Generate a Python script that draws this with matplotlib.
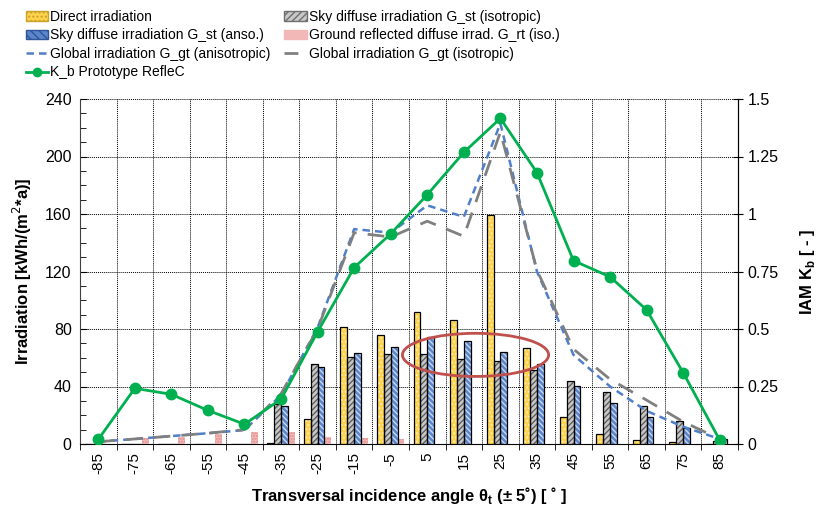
import numpy as np
import matplotlib
matplotlib.use("Agg")
import matplotlib.pyplot as plt
from matplotlib.patches import Patch, Ellipse
from matplotlib.lines import Line2D

plt.rcParams['font.family'] = ['Liberation Sans', 'DejaVu Sans']
plt.rcParams['hatch.linewidth'] = 1.0

# Datos
angulos = ['-85', '-75', '-65', '-55', '-45', '-35', '-25', '-15', '-5',
           '5', '15', '25', '35', '45', '55', '65', '75', '85']
directa = [0, 0, 0, 0, 0, 0.5, 17.5, 81.5, 76, 92, 86, 159, 66.5, 19, 6.7, 2.8, 1.6, 0.3]
difusa_iso = [0, 0, 0, 0, 0, 27.5, 56, 60.5, 62.5, 62.5, 59, 57.5, 51.5, 44, 36.5, 26.5, 16.2, 2.0]
difusa_aniso = [0, 0, 0, 0, 0, 26.7, 53.8, 63, 67.2, 74.4, 71.6, 64.2, 55.4, 40.3, 28.3, 18.5, 10.9, 3.2]
reflejada = [0, 4, 5.1, 6.7, 8.5, 8.4, 5.1, 4, 3.2, 0, 0, 0, 0, 0, 0, 0, 0, 0]
global_aniso = [1.6, 3.5, 5.5, 7.5, 9.7, 34, 81, 149.5, 147, 166, 158, 223, 120, 62, 40, 23, 12, 3.5]
global_iso = [1.6, 3.5, 5.5, 7.5, 10, 35, 80, 147, 144, 155, 144.5, 217, 121, 66, 45, 30.5, 15.5, 3.5]
kb = [0.02, 0.242, 0.216, 0.146, 0.086, 0.195, 0.488, 0.767, 0.914, 1.084,
      1.268, 1.416, 1.18, 0.797, 0.727, 0.583, 0.31, 0.017]

x = np.arange(len(angulos))
w = 0.188

fig = plt.figure(figsize=(8.21, 5.08), dpi=100)
ax = fig.add_axes([80/821, 64/508, 658/821, 345/508])
ax2 = ax.twinx()

# Barras: capa con trama + capa con borde negro
series = [
    (directa, -1.5, '#FFD34D', '#FFF0B0', '....', 'black'),
    (difusa_iso, -0.5, '#C8C8C8', '#5E5E5E', '//////', 'black'),
    (difusa_aniso, 0.5, '#5B86CC', '#C9D8F0', '\\\\\\\\\\\\', 'black'),
    (reflejada, 1.5, '#F2B8B8', '#E08C8C', '......', None),
]
for valores, off, cara, trama, patron, borde in series:
    ax.bar(x + off*w, valores, w, color=cara, edgecolor=trama, hatch=patron,
           linewidth=0, zorder=3)
    if borde:
        ax.bar(x + off*w, valores, w, fill=False, edgecolor=borde,
               linewidth=0.9, zorder=4)

ax.plot(x, global_aniso, color='#4F7FC8', lw=1.8, dashes=(3, 2), zorder=5)
ax.plot(x, global_iso, color='#808080', lw=2, dashes=(6, 4), zorder=5)
ax2.plot(x, kb, color='#00B050', lw=2, marker='o', ms=7.5, zorder=6)

ax.add_patch(Ellipse((10.32, 62), 4.0, 30, fill=False, edgecolor='#C0504D',
                     lw=2, zorder=7))

ax.set_xlim(-0.5, len(angulos) - 0.5)
ax.set_ylim(0, 240)
ax2.set_ylim(0, 1.5)

ax.set_xticks(x)
ax.set_xticklabels(angulos, rotation=90, fontsize=11)
ax.set_xticks(np.arange(-0.5, len(angulos)), minor=True)
ax.tick_params(axis='x', which='major', length=0, pad=6)
ax.tick_params(axis='x', which='minor', length=4, direction='out')
ax.set_yticks(np.arange(0, 241, 40))
ax.set_yticks(np.arange(0, 241, 10), minor=True)
ax.tick_params(axis='y', which='both', direction='in', labelsize=11.5, pad=6)
ax.tick_params(axis='y', which='minor', length=4)
ax.tick_params(axis='y', which='major', length=5)

ax2.set_yticks([0, 0.25, 0.5, 0.75, 1, 1.25, 1.5])
ax2.set_yticklabels(['0', '0.25', '0.5', '0.75', '1', '1.25', '1.5'])
ax2.tick_params(axis='y', direction='inout', length=7, labelsize=11.5)

ax.grid(True, which='major', axis='y', color='black', ls=(0, (1, 1)), lw=0.7, zorder=0)
ax.grid(True, which='minor', axis='x', color='black', ls=(0, (1, 1)), lw=0.7, zorder=0)
ax.set_axisbelow(True)

for a in (ax, ax2):
    a.spines['top'].set_visible(False)
ax2.spines['left'].set_visible(False)
ax2.spines['bottom'].set_visible(False)
ax.spines['left'].set_color('#404040')

ax.set_ylabel('Irradiation [kWh/(m$^{2}$*a)]', fontsize=12, fontweight='bold', labelpad=8)
ax2.set_ylabel('IAM K$_\\mathregular{b}$ [ - ]', fontsize=12, fontweight='bold', labelpad=14)
ax.set_xlabel('Transversal incidence angle θ$_\\mathregular{t}$ (± 5˚) [ ˚ ]',
              fontsize=12, fontweight='bold', labelpad=8)

# Leyenda
manejadores = [
    Patch(facecolor='#FFD34D', edgecolor='#C9A227', hatch='....', label='Direct irradiation'),
    Patch(facecolor='#5B86CC', edgecolor='#2F5597', hatch='\\\\\\\\', label='Sky diffuse irradiation G_st (anso.)'),
    Line2D([], [], color='#4F7FC8', lw=1.8, dashes=(3, 2), label='Global irradiation G_gt (anisotropic)'),
    Line2D([], [], color='#00B050', lw=2, marker='o', ms=6, label='K_b Prototype RefleC'),
    Patch(facecolor='#C8C8C8', edgecolor='#6E6E6E', hatch='/////', label='Sky diffuse irradiation G_st (isotropic)'),
    Patch(facecolor='#F2B8B8', edgecolor='#F2B8B8', hatch='....', label='Ground reflected diffuse irrad. G_rt (iso.)'),
    Line2D([], [], color='#808080', lw=2, dashes=(5, 4), label='Global irradiation G_gt (isotropic)'),
]
fig.legend(handles=manejadores, ncol=2, loc='upper left', bbox_to_anchor=(16/821, 1.0),
           frameon=False, prop={'size': 10},
           handlelength=1.6, handletextpad=0.15, labelspacing=0.33, columnspacing=1.0,
           borderaxespad=0.3, handleheight=0.7)

fig.savefig('out.png', dpi=100)
